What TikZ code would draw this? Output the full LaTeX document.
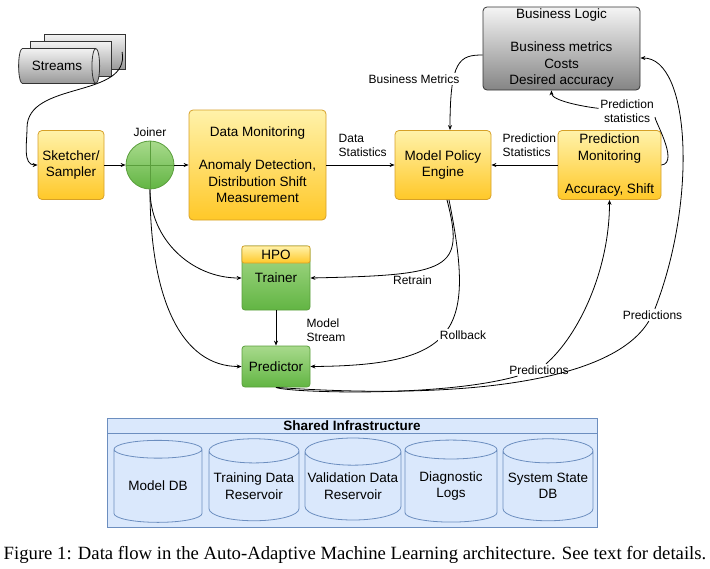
\documentclass[tikz,border=0pt]{standalone}
\usepackage{fontspec}
\setmainfont{Liberation Sans}
\newfontfamily\capfont{Liberation Serif}
\usetikzlibrary{shapes.geometric,arrows.meta}

\definecolor{ylwtop}{RGB}{255,242,170}
\definecolor{ylwbot}{RGB}{255,200,40}
\definecolor{ylwline}{RGB}{214,160,40}
\definecolor{grntop}{RGB}{168,218,140}
\definecolor{grnbot}{RGB}{98,181,67}
\definecolor{grnline}{RGB}{90,158,60}
\definecolor{blufill}{RGB}{218,232,252}
\definecolor{bluline}{RGB}{108,142,191}

\newcommand\boxfont{\fontsize{13.5}{16.5}\selectfont}
\newcommand\lblfont{\fontsize{12}{14}\selectfont}

\begin{document}
\begin{tikzpicture}[x=1pt,y=1pt,
  ybox/.style={draw=ylwline, line width=0.8pt, rounded corners=4pt, top color=ylwtop, bottom color=ylwbot, align=center, inner sep=0pt, font=\boxfont},
  gbox/.style={draw=grnline, line width=0.8pt, rounded corners=3pt, top color=grntop, bottom color=grnbot, align=center, inner sep=0pt, font=\boxfont},
  lbl/.style={font=\lblfont, inner sep=1.5pt, align=center},
  flow/.style={line width=0.8pt, -{Stealth[length=5pt,width=4pt]}},
  strm/.style={cylinder, draw=black!80, line width=0.8pt, top color=black!5, bottom color=black!40, minimum height=81pt, minimum width=35pt, aspect=0.8, inner sep=0pt},
  dbcyl/.style={cylinder, shape border rotate=90, draw=bluline, line width=0.8pt, fill=blufill, aspect=0.3, minimum height=82pt, align=center, inner sep=0pt, font=\boxfont}]
\useasboundingbox (0,0) rectangle (710,-568);

\node[strm] (strm3) at (85,-52) {};
\node[strm] (strm2) at (71,-59) {};
\node[strm, font=\boxfont] (strm1) at (57,-66) {Streams};

\node[ybox, minimum width=66pt, minimum height=69pt] (sketch) at (71,-165) {Sketcher/\\Sampler};
\node[circle, draw=grnline, line width=0.8pt, top color=grntop, bottom color=grnbot, minimum size=48pt, inner sep=0pt] (joiner) at (150,-165) {};
\draw[grnline, line width=0.8pt] (joiner.north) -- (joiner.south) (joiner.west) -- (joiner.east);
\node[lbl] (joinlbl) at (150,-132) {Joiner};
\node[ybox, minimum width=137pt, minimum height=110pt] (datamon) at (257.5,-165) {Data Monitoring\\[16.5pt]Anomaly Detection,\\Distribution Shift\\Measurement};
\node[ybox, minimum width=96pt, minimum height=69pt] (mpe) at (443,-165) {Model Policy\\Engine};
\node[ybox, minimum width=103pt, minimum height=69pt] (predmon) at (609.5,-165) {Prediction\\Monitoring\\[16.5pt]Accuracy, Shift};
\node[draw=black!80, line width=0.8pt, rounded corners=4pt, top color=black!4, bottom color=black!48, minimum width=157pt, minimum height=83pt, align=center, inner sep=0pt, font=\boxfont] (bizlog) at (561.5,-48.5) {Business Logic\\[16.5pt]Business metrics\\Costs\\Desired accuracy};

\node[gbox, minimum width=68pt, minimum height=64pt] (trainer) at (276,-278) {Trainer};
\node[ybox, rounded corners=2pt, anchor=north, minimum width=68pt, minimum height=17pt] (hpo) at (trainer.north) {HPO};
\node[gbox, minimum width=68pt, minimum height=41pt] (pred) at (276,-366.5) {Predictor};

\node[lbl, anchor=west, align=left] (dstat) at (337,-145) {Data\\Statistics};
\node[lbl, anchor=west, align=left] (pstat) at (501,-145) {Prediction\\Statistics};
\node[lbl] (pslbl) at (627,-111.5) {Prediction\\statistics};
\node[lbl, anchor=west, align=left] (mstream) at (305,-330) {Model\\Stream};
\node[lbl] (plA) at (539,-370) {Predictions};
\node[lbl] (plB) at (652.5,-315) {Predictions};

\coordinate (bend) at (27,-128);
\draw[flow] ([xshift=-4pt]strm3.top) to[out=-80,in=90] (bend) to[out=-90,in=180] (sketch.west);
\draw[flow] (sketch) -- (joiner);
\draw[flow] (joiner) -- (datamon);
\draw[flow] (datamon) -- (mpe);
\draw[flow] (predmon) -- (mpe);
\draw[flow] (trainer) -- (pred);
\draw[flow] (joiner.south) .. controls +(0,-50) and +(-50,0) .. (trainer.west);
\draw[flow] (joiner.south) .. controls +(0,-110) and +(-60,0) .. (pred.west);
\draw[flow] ([xshift=4pt]mpe.south) .. controls +(18,-70) and +(140,3) .. (trainer.east);
\draw[flow] ([xshift=6pt]mpe.south) .. controls +(26,-130) and +(150,1) .. (pred.east);
\draw[flow] ([yshift=-6.5pt]bizlog.west) .. controls +(-23,0) and +(0,70) .. ([xshift=7pt]mpe.north);
\draw[flow] (predmon.east) .. controls +(19,2) and +(25,-5) .. (pslbl) .. controls +(-45,5) and +(0,-10) .. ([xshift=-10pt]bizlog.south);
\draw[flow] (pred.south) .. controls +(10,-5) and +(-99,-28) .. (plA) .. controls +(40,35) and +(0,-70) .. (predmon.south);
\draw[flow] (pred.south) .. controls +(174,-12) and +(-42,-70) .. (plB) .. controls +(45,115) and +(50,0) .. ([yshift=-9.5pt]bizlog.east);

\node[lbl, fill=white] (bmlbl) at (414,-79) {Business Metrics};
\node[lbl] (retrlbl) at (412.5,-280) {Retrain};
\node[lbl, fill=white] (rolllbl) at (463,-335) {Rollback};

\node[draw=bluline, line width=0.8pt, fill=blufill, minimum width=490pt, minimum height=109pt, inner sep=0pt] (shared) at (352,-472.5) {};
\node[draw=bluline, line width=0.8pt, fill=blufill, anchor=north, minimum width=490pt, minimum height=15pt, inner sep=0pt, font=\boxfont\bfseries] (sharedhd) at (shared.north) {Shared Infrastructure};
\node[dbcyl, minimum width=88pt] (modeldb) at (158,-486) {Model DB};
\node[dbcyl, minimum width=90pt] (traindb) at (254,-486) {Training Data\\Reservoir};
\node[dbcyl, minimum width=96pt] (valdb) at (353,-486) {Validation Data\\Reservoir};
\node[dbcyl, minimum width=92pt] (diaglog) at (451,-486) {Diagnostic\\Logs};
\node[dbcyl, minimum width=90pt] (statedb) at (548,-486) {System State\\DB};

\node[font=\capfont\fontsize{18.7}{22}\selectfont] (caption) at (355,-555) {Figure 1: Data flow in the Auto-Adaptive Machine Learning architecture. See text for details.};
\end{tikzpicture}
\end{document}
